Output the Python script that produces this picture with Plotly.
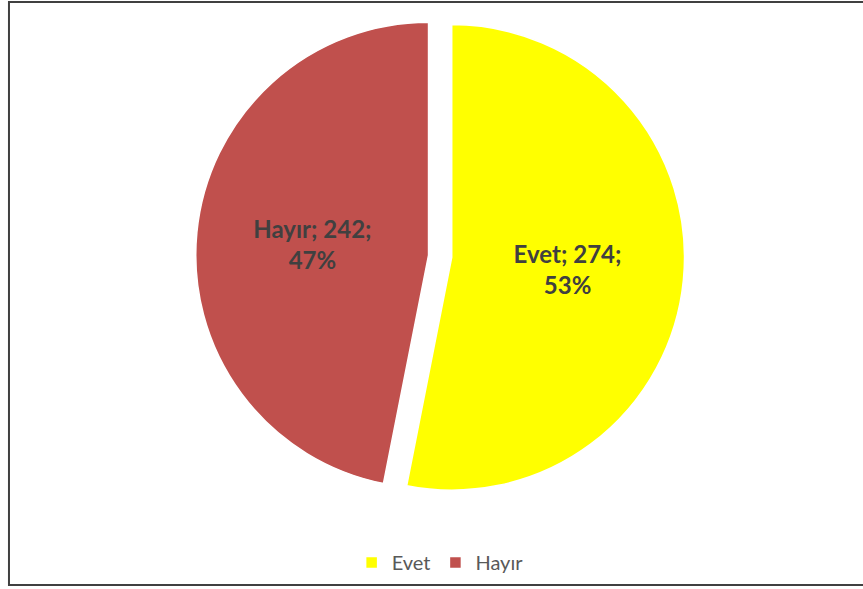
import plotly.graph_objects as go

labels = ["Evet", "Hayır"]
values = [274, 242]
colors = ["#FFFF00", "#C0504D"]

fig = go.Figure(
    go.Pie(
        labels=labels,
        values=values,
        sort=False,
        direction="clockwise",
        rotation=0,
        pull=[0.05, 0.05],
        marker=dict(colors=colors, line=dict(color="white", width=1.5)),
        texttemplate="<b>%{label}; %{value};<br>%{percent:.0%}</b>",
        textposition="inside",
        insidetextorientation="horizontal",
        textfont=dict(family="Lato, Open Sans, sans-serif", size=24, color="#404040"),
        domain=dict(x=[0.02, 1], y=[0.15, 0.98]),
        hoverinfo="label+value+percent",
    )
)

fig.update_layout(
    width=863,
    height=589,
    margin=dict(l=0, r=0, t=0, b=0),
    paper_bgcolor="white",
    plot_bgcolor="white",
    showlegend=True,
    legend=dict(
        orientation="h",
        x=0.51,
        xanchor="center",
        y=0.045,
        yanchor="middle",
        font=dict(family="Lato, Open Sans, sans-serif", size=20, color="#595959"),
    ),
    shapes=[
        dict(
            type="rect",
            xref="paper",
            yref="paper",
            x0=0.0104,
            x1=1.01,
            y0=0.0068,
            y1=0.9966,
            line=dict(color="#404040", width=2),
            layer="below",
        )
    ],
)

fig.write_html(
    "out.html",
    config={"displayModeBar": False},
    post_script="document.body.style.margin='0';document.body.style.padding='0';",
)
